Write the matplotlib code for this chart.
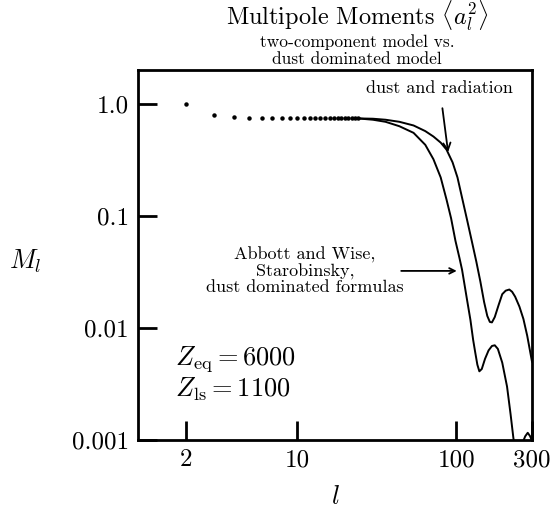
import matplotlib
matplotlib.use("Agg")
import matplotlib.pyplot as plt

plt.rcParams['font.family'] = ['cmr10', 'DejaVu Serif']
plt.rcParams['mathtext.fontset'] = 'cm'
plt.rcParams['axes.formatter.use_mathtext'] = True

# ---- data ----
dot_l = [2, 3, 4, 5, 6, 7, 8, 9, 10, 11, 12, 13, 14, 15, 16, 17, 18, 19, 20, 21, 22, 23, 24]
dot_M = [1.00, 0.80, 0.755, 0.745, 0.74, 0.74, 0.74, 0.74, 0.74, 0.74, 0.74, 0.74,
         0.74, 0.74, 0.74, 0.74, 0.74, 0.74, 0.74, 0.74, 0.74, 0.74, 0.74]

upper_l = [24, 30, 36, 44, 54, 64, 72, 80, 87, 95, 102, 109, 117, 126, 134, 142, 150,
           157, 163, 168, 175, 185, 195, 205, 216, 225, 235, 250, 265, 280, 300]
upper_M = [0.74, 0.735, 0.72, 0.69, 0.64, 0.57, 0.51, 0.45, 0.39, 0.30, 0.22, 0.145,
           0.093, 0.058, 0.039, 0.026, 0.017, 0.0128, 0.0113, 0.0112, 0.0125, 0.016,
           0.020, 0.0215, 0.022, 0.021, 0.019, 0.0155, 0.012, 0.0085, 0.005]

lower_l = [24, 30, 36, 44, 54, 64, 72, 80, 87, 93, 99, 105, 109, 117, 123, 128, 132,
           136, 140, 145, 152, 160, 168, 175, 183, 195, 209, 220, 229, 235]
lower_M = [0.74, 0.72, 0.69, 0.63, 0.55, 0.43, 0.32, 0.22, 0.14, 0.095, 0.06, 0.042,
           0.033, 0.018, 0.0118, 0.0078, 0.006, 0.0047, 0.0041, 0.0043, 0.0053, 0.0063,
           0.0069, 0.0070, 0.0065, 0.0049, 0.003, 0.0017, 0.00105, 0.0008]

tail_l = [262, 272, 282, 292, 300]
tail_M = [0.00095, 0.00108, 0.00116, 0.00108, 0.00098]

xticks = [2, 10, 100, 300]
xticklabels = ['2', '10', '100', '300']
yticks = [1.0, 0.1, 0.01, 0.001]
yticklabels = ['1.0', '0.1', '0.01', '0.001']

# ---- figure ----
W, H = 551, 512
fig = plt.figure(figsize=(W / 100, H / 100), dpi=100)
L, R, T, B = 138, 532, 70, 440
ax = fig.add_axes([L / W, 1 - B / H, (R - L) / W, (B - T) / H])

ax.set_xscale('log')
ax.set_yscale('log')
ax.set_xlim(1.0, 300)
ax.set_ylim(0.001, 2.0)

ax.plot(dot_l, dot_M, linestyle='none', marker='o', markersize=2.2, color='black')
ax.plot(upper_l, upper_M, color='black', lw=1.4)
ax.plot(lower_l, lower_M, color='black', lw=1.4)
ax.plot(tail_l, tail_M, color='black', lw=1.4)

ax.set_xticks(xticks)
ax.set_xticklabels(xticklabels)
ax.set_yticks(yticks)
ax.set_yticklabels(yticklabels)
ax.minorticks_off()
ax.tick_params(which='major', direction='in', length=14, width=2,
               labelsize=18, pad=6.5, top=False, right=False)
for s in ax.spines.values():
    s.set_linewidth(2)

# axis labels
fig.text(25 / W, 1 - 261 / H, r'$M_l$', fontsize=19, ha='center', va='center')
fig.text(335 / W, 1 - 497 / H, r'$l$', fontsize=19, ha='center', va='center')

# titles
fig.text(357 / W, 1 - 25 / H, r'Multipole Moments $\langle a_l^2\rangle$',
         fontsize=17.5, ha='center', va='baseline')
fig.text(357 / W, 1 - 46.5 / H, 'two-component model vs.',
         fontsize=12.5, ha='center', va='baseline')
fig.text(357 / W, 1 - 64 / H, 'dust dominated model',
         fontsize=12.5, ha='center', va='baseline')

# annotations
ax.annotate('dust and radiation', xy=(0.787, 0.778), xycoords='axes fraction',
            xytext=(0.766, 0.951), textcoords='axes fraction',
            ha='center', va='center', fontsize=13,
            arrowprops=dict(arrowstyle='->', color='black', lw=1.3,
                            shrinkA=7, shrinkB=0))
ax.text(0.424, 0.457, 'Abbott and Wise,\nStarobinsky,\ndust dominated formulas',
        transform=ax.transAxes, ha='center', va='center', fontsize=13,
        linespacing=1.05)
ax.annotate('', xy=(0.809, 0.457), xycoords='axes fraction',
            xytext=(0.668, 0.457), textcoords='axes fraction',
            arrowprops=dict(arrowstyle='->', color='black', lw=1.3,
                            shrinkA=0, shrinkB=0))

ax.text(0.095, 0.18, r'$Z_{\rm eq} = 6000$' + '\n' + r'$Z_{\rm ls} = 1100$',
        transform=ax.transAxes, ha='left', va='center', fontsize=19,
        linespacing=1.1)

fig.savefig('out.png', dpi=100)
